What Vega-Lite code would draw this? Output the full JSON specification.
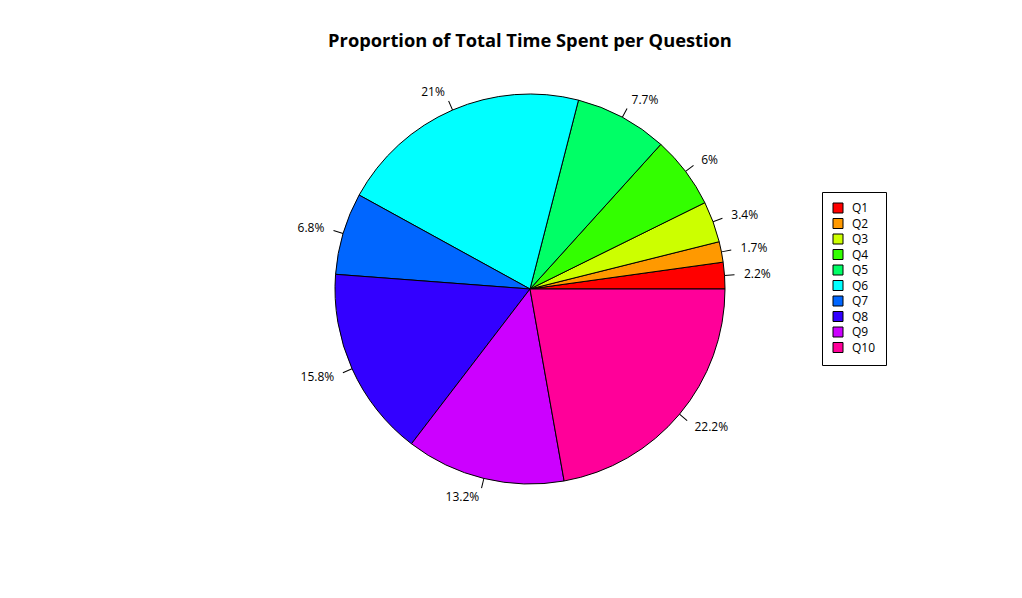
{
  "$schema": "https://vega.github.io/schema/vega-lite/v6.json",
  "autosize": "none",
  "width": 1060,
  "height": 458,
  "padding": {"left": 0, "top": 60, "right": 0, "bottom": 0},
  "background": "white",
  "title": {
    "text": "Proportion of Total Time Spent per Question",
    "font": "Open Sans",
    "fontSize": 18.3,
    "fontWeight": "bold",
    "color": "black",
    "anchor": "middle",
    "frame": "group",
    "offset": 9
  },
  "data": {
    "values": [
      {"q": "Q1", "idx": 1, "pct": 2.2, "label": "2.2%"},
      {"q": "Q2", "idx": 2, "pct": 1.7, "label": "1.7%"},
      {"q": "Q3", "idx": 3, "pct": 3.4, "label": "3.4%"},
      {"q": "Q4", "idx": 4, "pct": 6.0, "label": "6%"},
      {"q": "Q5", "idx": 5, "pct": 7.7, "label": "7.7%"},
      {"q": "Q6", "idx": 6, "pct": 21.0, "label": "21%"},
      {"q": "Q7", "idx": 7, "pct": 6.8, "label": "6.8%"},
      {"q": "Q8", "idx": 8, "pct": 15.8, "label": "15.8%"},
      {"q": "Q9", "idx": 9, "pct": 13.2, "label": "13.2%"},
      {"q": "Q10", "idx": 10, "pct": 22.2, "label": "22.2%"}
    ]
  },
  "transform": [
    {"stack": "pct", "groupby": [], "sort": [{"field": "idx", "order": "ascending"}], "as": ["s0", "s1"]},
    {"calculate": "(datum.s0 + datum.s1) / 2", "as": "m"},
    {"calculate": "datum.m - 0.04", "as": "t0"},
    {"calculate": "datum.m + 0.04", "as": "t1"}
  ],
  "layer": [
    {
      "mark": {"type": "arc", "radius": 195, "stroke": "black", "strokeWidth": 1},
      "encoding": {
        "theta": {"field": "s0", "type": "quantitative", "stack": null, "scale": {"domain": [0, 100], "range": [1.5707963, -4.712389]}},
        "theta2": {"field": "s1"},
        "fill": {
          "field": "q", "type": "nominal",
          "scale": {
            "domain": ["Q1", "Q2", "Q3", "Q4", "Q5", "Q6", "Q7", "Q8", "Q9", "Q10"],
            "range": ["#FF0000", "#FF9900", "#CCFF00", "#33FF00", "#00FF66", "#00FFFF", "#0066FF", "#3300FF", "#CC00FF", "#FF0099"]
          },
          "legend": {
            "title": null,
            "orient": "none",
            "legendX": 822,
            "legendY": 132,
            "strokeColor": "black",
            "padding": 10,
            "symbolType": "square",
            "symbolSize": 100,
            "symbolStrokeColor": "black",
            "symbolStrokeWidth": 1,
            "symbolOpacity": 1,
            "labelFont": "Open Sans",
            "labelFontSize": 12,
            "labelColor": "black",
            "labelOffset": 8,
            "rowPadding": 1.5,
            "fillColor": "white"
          }
        }
      }
    },
    {
      "mark": {"type": "arc", "radius": 205, "radius2": 195, "fill": "black"},
      "encoding": {
        "theta": {"field": "t0", "type": "quantitative", "stack": null, "scale": {"domain": [0, 100], "range": [1.5707963, -4.712389]}},
        "theta2": {"field": "t1"}
      }
    },
    {
      "transform": [{"filter": "datum.m < 25 || datum.m > 75"}],
      "mark": {"type": "text", "radius": 214.5, "align": "left", "baseline": "middle", "font": "Open Sans", "fontSize": 12, "color": "black"},
      "encoding": {
        "theta": {"field": "m", "type": "quantitative", "stack": null, "scale": {"domain": [0, 100], "range": [1.5707963, -4.712389]}},
        "text": {"field": "label"}
      }
    },
    {
      "transform": [{"filter": "datum.m >= 25 && datum.m <= 75"}],
      "mark": {"type": "text", "radius": 214.5, "align": "right", "baseline": "middle", "font": "Open Sans", "fontSize": 12, "color": "black"},
      "encoding": {
        "theta": {"field": "m", "type": "quantitative", "stack": null, "scale": {"domain": [0, 100], "range": [1.5707963, -4.712389]}},
        "text": {"field": "label"}
      }
    }
  ],
  "config": {"view": {"stroke": null}}
}
